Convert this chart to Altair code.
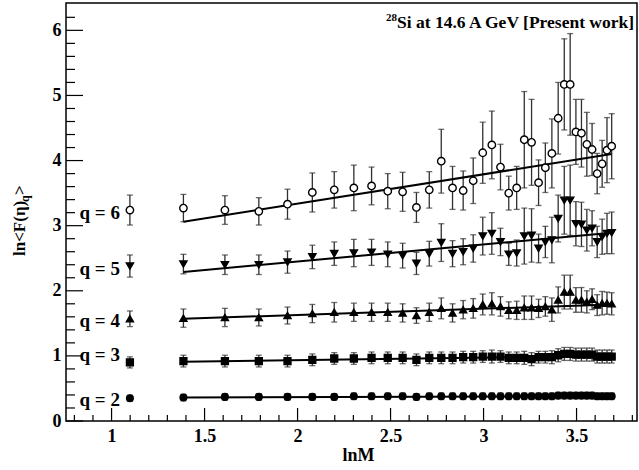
import altair as alt
import pandas as pd

# ---------------- data ----------------
lnM = [1.0986, 1.3863, 1.6094, 1.7918, 1.9459, 2.0794, 2.1972, 2.3026, 2.3979, 2.4849,
       2.5649, 2.6391, 2.7081, 2.7726, 2.8332, 2.8904, 2.9444, 2.9957, 3.0445, 3.0910,
       3.1355, 3.1781, 3.2189, 3.2581, 3.2958, 3.3322, 3.3673, 3.4012, 3.4340, 3.4657,
       3.4965, 3.5264, 3.5553, 3.5835, 3.6109, 3.6376, 3.6636, 3.6889]

q6 = [3.24, 3.27, 3.24, 3.22, 3.33, 3.51, 3.55, 3.58, 3.61, 3.53, 3.52, 3.28, 3.55, 3.99,
      3.58, 3.54, 3.69, 4.12, 4.24, 3.90, 3.50, 3.58, 4.32, 4.28, 3.66, 3.89, 4.11, 4.65,
      5.17, 5.17, 4.44, 4.42, 4.25, 4.17, 3.80, 3.95, 4.16, 4.22]
q6_err = [0.23, 0.21, 0.22, 0.21, 0.23, 0.30, 0.28, 0.35, 0.29, 0.27, 0.30, 0.23, 0.28, 0.49,
          0.33, 0.30, 0.35, 0.47, 0.52, 0.35, 0.26, 0.33, 0.74, 0.66, 0.35, 0.38, 0.53, 0.55,
          0.70, 0.78, 0.50, 0.52, 0.49, 0.40, 0.31, 0.36, 0.50, 0.50]

q5 = [2.38, 2.41, 2.40, 2.40, 2.44, 2.52, 2.57, 2.58, 2.59, 2.56, 2.54, 2.42, 2.57, 2.74,
      2.57, 2.60, 2.65, 2.84, 2.88, 2.75, 2.56, 2.58, 2.84, 2.85, 2.65, 2.75, 2.78, 3.11,
      3.39, 3.39, 3.03, 3.02, 2.93, 2.96, 2.75, 2.83, 2.88, 2.89]
q5_err = [0.17, 0.15, 0.15, 0.15, 0.17, 0.18, 0.18, 0.21, 0.20, 0.19, 0.19, 0.17, 0.19, 0.29,
          0.20, 0.20, 0.21, 0.29, 0.32, 0.21, 0.17, 0.20, 0.43, 0.41, 0.22, 0.24, 0.35, 0.36,
          0.52, 0.54, 0.34, 0.34, 0.32, 0.27, 0.24, 0.27, 0.31, 0.32]

q4 = [1.57, 1.58, 1.59, 1.59, 1.62, 1.65, 1.67, 1.67, 1.67, 1.67, 1.66, 1.62, 1.67, 1.73,
      1.66, 1.71, 1.73, 1.79, 1.80, 1.76, 1.70, 1.70, 1.74, 1.74, 1.73, 1.76, 1.71, 1.86,
      1.98, 1.98, 1.86, 1.86, 1.83, 1.87, 1.78, 1.81, 1.81, 1.80]
q4_err = [0.12, 0.14, 0.14, 0.13, 0.13, 0.14, 0.15, 0.14, 0.14, 0.14, 0.14, 0.12, 0.14, 0.16,
          0.14, 0.14, 0.15, 0.16, 0.17, 0.15, 0.13, 0.14, 0.18, 0.18, 0.14, 0.15, 0.18, 0.20,
          0.26, 0.26, 0.19, 0.19, 0.17, 0.16, 0.16, 0.18, 0.17, 0.17]

q3 = [0.90, 0.92, 0.92, 0.92, 0.92, 0.94, 0.96, 0.96, 0.97, 0.97, 0.97, 0.94, 0.97, 0.97,
      0.97, 0.98, 0.98, 0.99, 0.99, 0.99, 0.97, 0.97, 0.97, 0.95, 0.98, 0.98, 0.98, 1.01,
      1.03, 1.03, 1.02, 1.02, 1.02, 1.02, 0.99, 0.99, 0.99, 0.99]
q3_err = [0.085, 0.09, 0.09, 0.09, 0.09, 0.09, 0.09, 0.09, 0.09, 0.09, 0.09, 0.09, 0.09, 0.09,
          0.09, 0.09, 0.09, 0.09, 0.10, 0.09, 0.09, 0.09, 0.10, 0.10, 0.09, 0.09, 0.10, 0.10,
          0.10, 0.10, 0.10, 0.10, 0.10, 0.10, 0.10, 0.10, 0.10, 0.10]

q2 = [0.35, 0.36, 0.37, 0.37, 0.37, 0.37, 0.37, 0.38, 0.38, 0.38, 0.38, 0.37, 0.38, 0.38,
      0.38, 0.38, 0.38, 0.38, 0.38, 0.38, 0.38, 0.38, 0.38, 0.38, 0.38, 0.38, 0.38, 0.39,
      0.39, 0.39, 0.39, 0.39, 0.39, 0.39, 0.38, 0.38, 0.38, 0.38]
q2_err = [0.045, 0.05, 0.05, 0.05, 0.05, 0.05, 0.05, 0.05, 0.05, 0.05, 0.05, 0.05, 0.05, 0.05,
          0.05, 0.05, 0.05, 0.05, 0.05, 0.05, 0.05, 0.05, 0.05, 0.05, 0.05, 0.05, 0.05, 0.05,
          0.05, 0.05, 0.05, 0.05, 0.05, 0.05, 0.05, 0.05, 0.05, 0.05]

# linear fits (endpoints)
fit_x = [1.3863, 3.6889]
fit_q6 = [3.06, 4.10]
fit_q5 = [2.29, 2.89]
fit_q4 = [1.57, 1.79]
fit_q3 = [0.91, 1.00]
fit_q2 = [0.36, 0.38]

series_keys = ["q2", "q3", "q4", "q5", "q6"]
series_labels = ["q = 2", "q = 3", "q = 4", "q = 5", "q = 6"]
label_x = 1.045
label_y = [0.33, 1.01, 1.53, 2.33, 3.20]

x_major = [1.0, 1.5, 2.0, 2.5, 3.0, 3.5]
x_minor = [0.8, 0.9, 1.1, 1.2, 1.3, 1.4, 1.6, 1.7, 1.8, 1.9, 2.1, 2.2, 2.3, 2.4,
           2.6, 2.7, 2.8, 2.9, 3.1, 3.2, 3.3, 3.4, 3.6, 3.7, 3.8]
y_major = [0, 1, 2, 3, 4, 5, 6]
y_minor = [0.2, 0.4, 0.6, 0.8, 1.2, 1.4, 1.6, 1.8, 2.2, 2.4, 2.6, 2.8, 3.2, 3.4, 3.6, 3.8,
           4.2, 4.4, 4.6, 4.8, 5.2, 5.4, 5.6, 5.8, 6.2]

# ---------------- tables ----------------
vals = {"q2": (q2, q2_err), "q3": (q3, q3_err), "q4": (q4, q4_err),
        "q5": (q5, q5_err), "q6": (q6, q6_err)}
rows = []
for k in series_keys:
    v, e = vals[k]
    for xx, yy, ee in zip(lnM, v, e):
        rows.append({"q": k, "x": xx, "y": yy, "lo": yy - ee, "hi": yy + ee})
df = pd.DataFrame(rows)

fits = {"q2": fit_q2, "q3": fit_q3, "q4": fit_q4, "q5": fit_q5, "q6": fit_q6}
fit_df = pd.DataFrame([{"q": k, "x": fx, "y": fy}
                       for k in series_keys for fx, fy in zip(fit_x, fits[k])])
lab_df = pd.DataFrame({"text": series_labels, "x": [label_x] * 5, "y": label_y})

W, H = 571, 418
FONT = "Liberation Serif"
XDOM = [0.755, 3.825]
YDOM = [0, 6.42]

xs = alt.Scale(domain=XDOM, nice=False, zero=False)
ys = alt.Scale(domain=YDOM, nice=False, zero=False)

base = alt.Chart(df)

xaxis = alt.Axis(values=x_major, format=".1~f", ticks=False, domain=False, grid=False,
                 labelFont=FONT, labelFontWeight="bold", labelFontSize=18, labelColor="black",
                 labelPadding=6, title="lnM", titleFont=FONT, titleFontWeight="bold",
                 titleFontSize=18, titleColor="black", titlePadding=1, titleX=292)
yaxis = alt.Axis(values=y_major, format="d", ticks=False, domain=False, grid=False,
                 labelFont=FONT, labelFontWeight="bold", labelFontSize=18, labelColor="black",
                 labelPadding=5, title=None)

bars = base.mark_rule(color="#303030", strokeWidth=1.3).encode(
    x=alt.X("x:Q", scale=xs, axis=xaxis),
    y=alt.Y("lo:Q", scale=ys, axis=yaxis),
    y2="hi:Q")
cap_lo = base.mark_tick(orient="horizontal", size=6, thickness=1.3, color="#303030").encode(
    x=alt.X("x:Q", scale=xs), y=alt.Y("lo:Q", scale=ys))
cap_hi = base.mark_tick(orient="horizontal", size=6, thickness=1.3, color="#303030").encode(
    x=alt.X("x:Q", scale=xs), y=alt.Y("hi:Q", scale=ys))

lines = alt.Chart(fit_df).mark_line(color="black", strokeWidth=2).encode(
    x=alt.X("x:Q", scale=xs), y=alt.Y("y:Q", scale=ys), detail="q:N")

shape_scale = alt.Scale(domain=series_keys,
                        range=["circle", "square", "triangle-up", "triangle-down", "circle"])
fill_scale = alt.Scale(domain=series_keys,
                       range=["black", "black", "black", "black", "white"])
size_scale = alt.Scale(domain=series_keys, range=[45, 55, 60, 60, 60])
points = base.mark_point(filled=True, stroke="black", strokeWidth=1.4, opacity=1).encode(
    x=alt.X("x:Q", scale=xs), y=alt.Y("y:Q", scale=ys),
    shape=alt.Shape("q:N", scale=shape_scale, legend=None),
    fill=alt.Fill("q:N", scale=fill_scale, legend=None),
    size=alt.Size("q:N", scale=size_scale, legend=None))

labels = alt.Chart(lab_df).mark_text(font=FONT, fontWeight="bold", fontSize=19, align="right",
                                     baseline="middle", color="black").encode(
    x=alt.X("x:Q", scale=xs), y=alt.Y("y:Q", scale=ys), text="text:N")

tick_df_xM = pd.DataFrame({"v": x_major})
tick_df_xm = pd.DataFrame({"v": x_minor})
tick_df_yM = pd.DataFrame({"v": y_major})
tick_df_ym = pd.DataFrame({"v": y_minor})
xtM = alt.Chart(tick_df_xM).mark_rule(color="black", strokeWidth=1.2).encode(
    x=alt.X("v:Q", scale=xs), y=alt.value(H), y2=alt.value(H - 13))
xtm = alt.Chart(tick_df_xm).mark_rule(color="black", strokeWidth=1.2).encode(
    x=alt.X("v:Q", scale=xs), y=alt.value(H), y2=alt.value(H - 6))
ytM = alt.Chart(tick_df_yM).mark_rule(color="black", strokeWidth=1.2).encode(
    y=alt.Y("v:Q", scale=ys), x=alt.value(0), x2=alt.value(17))
ytm = alt.Chart(tick_df_ym).mark_rule(color="black", strokeWidth=1.2).encode(
    y=alt.Y("v:Q", scale=ys), x=alt.value(0), x2=alt.value(9))

ann_df = pd.DataFrame({"a": [0]})
sup = alt.Chart(ann_df).mark_text(text="28", font=FONT, fontWeight="bold", fontSize=11,
                                  align="left", baseline="alphabetic", color="black").encode(
    x=alt.value(320), y=alt.value(18))
ann = alt.Chart(ann_df).mark_text(text="Si at 14.6 A GeV [Present work]", font=FONT,
                                  fontWeight="bold", fontSize=17.5, align="left",
                                  baseline="alphabetic", color="black").encode(
    x=alt.value(331), y=alt.value(25))

yt1 = alt.Chart(ann_df).mark_text(text="ln<F(η)", font=FONT, fontWeight="bold", fontSize=17,
                                  angle=270, align="left", baseline="middle",
                                  color="black").encode(x=alt.value(-46), y=alt.value(253))
yt2 = alt.Chart(ann_df).mark_text(text="q", font=FONT, fontWeight="bold", fontSize=12,
                                  angle=270, align="left", baseline="middle",
                                  color="black").encode(x=alt.value(-41), y=alt.value(199))
yt3 = alt.Chart(ann_df).mark_text(text=">", font=FONT, fontWeight="bold", fontSize=17,
                                  angle=270, align="left", baseline="middle",
                                  color="black").encode(x=alt.value(-46), y=alt.value(192))

chart = alt.layer(
    bars, cap_lo, cap_hi, lines, points, labels, xtM, xtm, ytM, ytm, sup, ann, yt1, yt2, yt3
).properties(
    width=W, height=H, autosize="none",
    padding={"left": 66, "top": 3, "right": 2, "bottom": 49},
    background="white"
).configure_view(stroke="black", strokeWidth=1.5)

chart.save("out.html", embed_options={"renderer": "svg", "actions": False})
